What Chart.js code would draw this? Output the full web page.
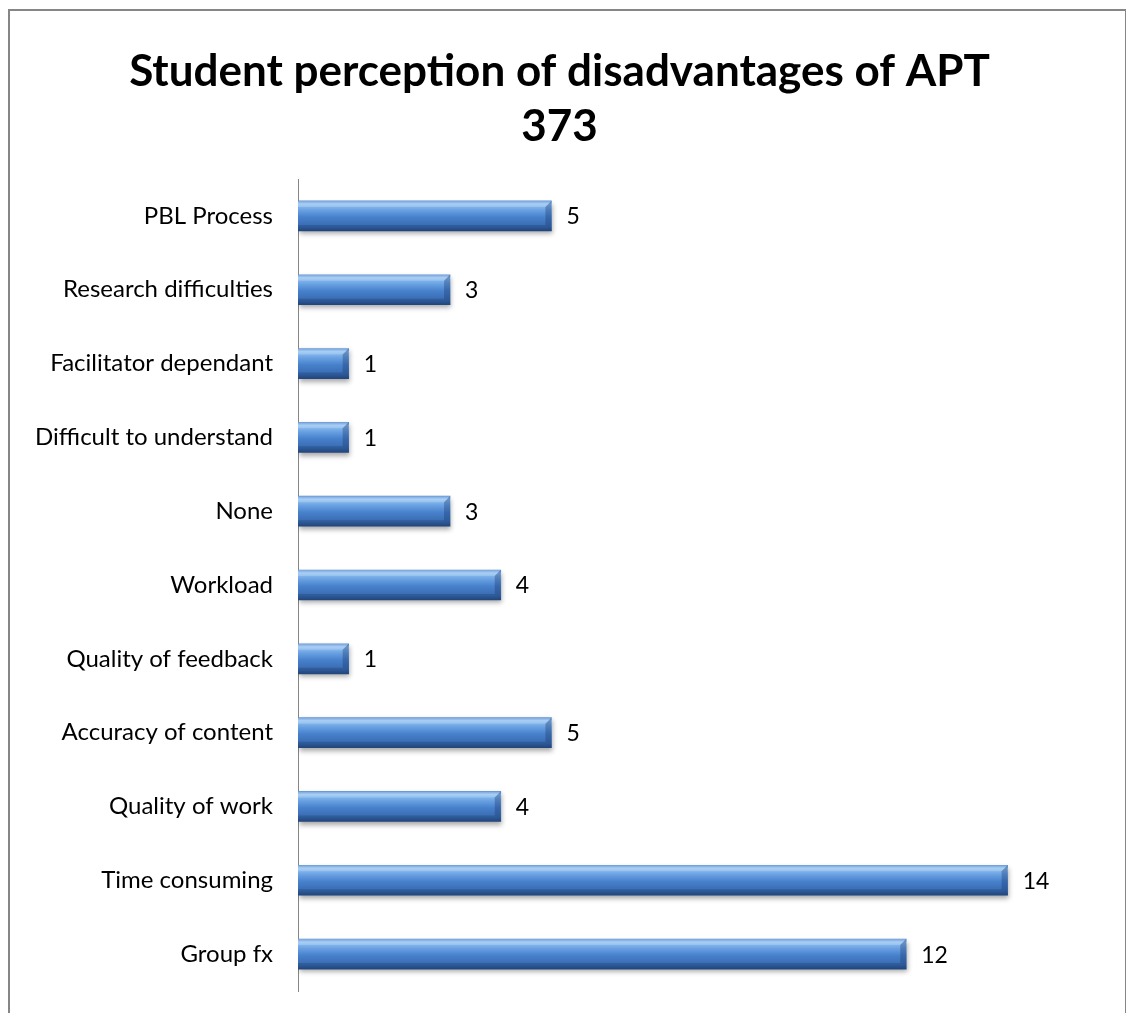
<!DOCTYPE html>
<html lang="en">
  <head>
    <meta charset="UTF-8" />
    <title>Student perception of disadvantages of APT 373</title>
    <script src="https://cdn.jsdelivr.net/npm/chart.js"></script>
    <style>
      html,
      body {
        margin: 0;
        overflow: hidden;
        background: #fff;
      }
      #frame {
        position: fixed;
        left: 8px;
        top: 9px;
        right: 0;
        bottom: -30px;
        overflow: hidden;
        border: 1px solid #868686;
        border-width: 2px 1px 1px 2px;
      }
    </style>
  </head>
  <body>
    <div id="frame">
      <canvas id="chart" width="1115" height="1030"></canvas>
    </div>

    <script>
      const categories = [
        "PBL Process",
        "Research difficulties",
        "Facilitator dependant",
        "Difficult to understand",
        "None",
        "Workload",
        "Quality of feedback",
        "Accuracy of content",
        "Quality of work",
        "Time consuming",
        "Group fx",
      ];
      const counts = [5, 3, 1, 1, 3, 4, 1, 5, 4, 14, 12];
      const titleLines = ["Student perception of disadvantages of APT", "373"];
      const fontName = "Lato, 'Liberation Sans', sans-serif";

      // bevelled blue gradient for each bar
      function barFill(c) {
        const chart = c.chart;
        if (!chart.chartArea) return "#4a86cf";
        const y = chart.scales.y.getPixelForValue(c.dataIndex);
        const g = chart.ctx.createLinearGradient(0, y - 15, 0, y + 15);
        g.addColorStop(0, "#5a8fd4");
        g.addColorStop(0.1, "#96c4f2");
        g.addColorStop(0.3, "#6aa2e3");
        g.addColorStop(0.55, "#4780cb");
        g.addColorStop(0.85, "#386bb0");
        g.addColorStop(1, "#274e85");
        return g;
      }

      const barShadow = {
        id: "barShadow",
        beforeDatasetsDraw(chart) {
          const ctx = chart.ctx;
          ctx.save();
          ctx.shadowColor = "rgba(0,0,0,0.35)";
          ctx.shadowBlur = 5;
          ctx.shadowOffsetY = 3;
          ctx.shadowOffsetX = 1;
        },
        afterDatasetsDraw(chart) {
          const ctx = chart.ctx;
          ctx.restore();
          const meta = chart.getDatasetMeta(0);
          ctx.save();
          meta.data.forEach((bar, i) => {
            const x = bar.x;
            const x0 = bar.base;
            const h = bar.height;
            const top = bar.y - h / 2;
            const bot = bar.y + h / 2;
            const b = 6;
            // top face
            ctx.fillStyle = "rgba(255,255,255,0.18)";
            ctx.beginPath();
            ctx.moveTo(x0, top);
            ctx.lineTo(x, top);
            ctx.lineTo(x - b, top + b);
            ctx.lineTo(x0, top + b);
            ctx.closePath();
            ctx.fill();
            // bottom face
            ctx.fillStyle = "rgba(20,45,90,0.25)";
            ctx.beginPath();
            ctx.moveTo(x0, bot);
            ctx.lineTo(x, bot);
            ctx.lineTo(x - b, bot - b);
            ctx.lineTo(x0, bot - b);
            ctx.closePath();
            ctx.fill();
            // right face
            ctx.fillStyle = "rgba(25,55,105,0.35)";
            ctx.beginPath();
            ctx.moveTo(x, top);
            ctx.lineTo(x - b, top + b);
            ctx.lineTo(x - b, bot - b);
            ctx.lineTo(x, bot);
            ctx.closePath();
            ctx.fill();
            // value label
            ctx.fillStyle = "#000";
            ctx.font = "23px " + fontName;
            ctx.textAlign = "left";
            ctx.textBaseline = "middle";
            ctx.fillText(String(counts[i]), x + 15, bar.y + 1);
          });
          ctx.restore();
        },
      };

      new Chart(document.getElementById("chart"), {
        type: "bar",
        data: {
          labels: categories,
          datasets: [
            {
              data: counts,
              backgroundColor: barFill,
              borderWidth: 0,
              barThickness: 30,
            },
          ],
        },
        options: {
          indexAxis: "y",
          responsive: false,
          animation: false,
          events: [],
          layout: {
            padding: { left: 0, right: 16, top: 0, bottom: 50 },
          },
          scales: {
            x: {
              display: false,
              min: 0,
              max: 16,
            },
            y: {
              grid: { display: true, drawOnChartArea: false, drawTicks: false },
              border: { display: true, color: "#868686", width: 1 },
              ticks: {
                padding: 25,
                color: "#000",
                font: { family: fontName, size: 24 },
              },
              afterFit(scale) {
                scale.width = 288;
              },
            },
          },
          plugins: {
            legend: { display: false },
            tooltip: { enabled: false },
            title: {
              display: true,
              text: titleLines,
              color: "#000",
              font: { family: fontName, size: 44, weight: "bold", lineHeight: 1.25 },
              padding: { top: 33, bottom: 25 },
            },
          },
        },
        plugins: [barShadow],
      });
    </script>
  </body>
</html>
